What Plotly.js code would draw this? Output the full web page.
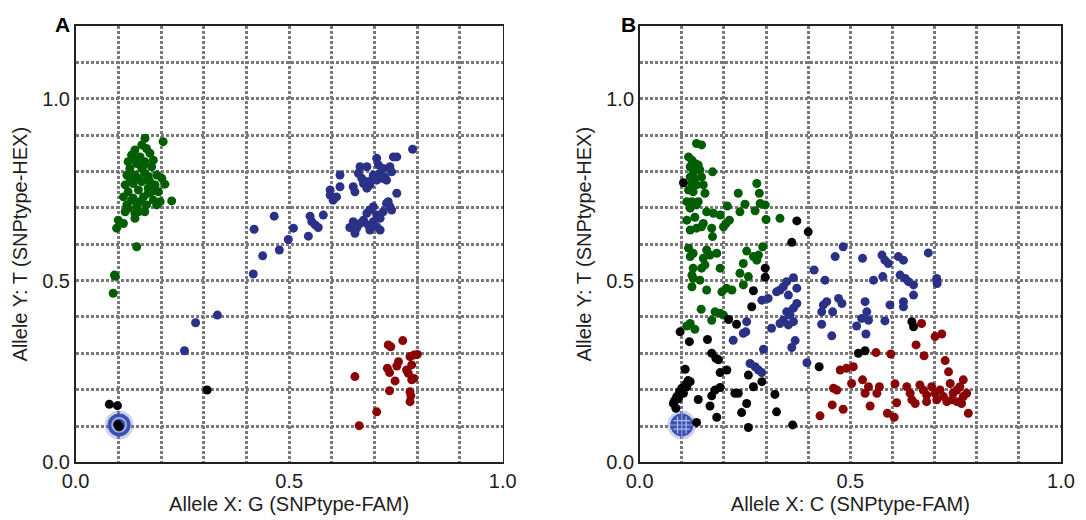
<!DOCTYPE html>
<html>
<head>
<meta charset="utf-8">
<script src="https://cdn.plot.ly/plotly-3.0.1.min.js"></script>
<style>html,body{margin:0;padding:0;background:#fff;}#chart{width:1086px;height:520px;}</style>
</head>
<body>
<div id="chart"></div>
<script>
// ---------- Panel A : Allele X = G (FAM), Allele Y = T (HEX) ----------
const aGreenX = [0.1625,0.205,0.155,0.139,0.166,0.131,0.151,0.174,0.123,0.143,0.162,0.182,0.127,0.155,0.178,0.120,0.139,0.162,0.190,0.202,0.116,0.135,0.155,0.174,0.209,0.123,0.147,0.170,0.194,0.112,0.135,0.159,0.182,0.198,0.225,0.120,0.143,0.166,0.190,0.116,0.139,0.123,0.100,0.112,0.096,0.139,0.143,0.091,0.088,0.131,0.151,0.170,0.147,0.162,0.127,0.147,0.170,0.137,0.159,0.186,0.178,0.093];
const aGreenY = [0.891,0.882,0.873,0.859,0.863,0.845,0.840,0.850,0.827,0.822,0.827,0.831,0.808,0.808,0.813,0.790,0.790,0.795,0.790,0.781,0.763,0.767,0.772,0.772,0.765,0.744,0.749,0.754,0.744,0.730,0.726,0.730,0.721,0.717,0.719,0.708,0.703,0.708,0.708,0.689,0.685,0.699,0.666,0.657,0.644,0.671,0.593,0.515,0.465,0.721,0.717,0.740,0.689,0.689,0.781,0.781,0.786,0.836,0.817,0.763,0.744,0.512];
const aBlueX = [0.789,0.752,0.744,0.705,0.709,0.682,0.666,0.662,0.720,0.736,0.740,0.713,0.697,0.693,0.682,0.674,0.670,0.650,0.654,0.619,0.619,0.596,0.596,0.603,0.611,0.705,0.717,0.724,0.728,0.752,0.682,0.689,0.728,0.736,0.740,0.697,0.689,0.682,0.705,0.713,0.697,0.705,0.685,0.674,0.666,0.650,0.642,0.654,0.658,0.713,0.689,0.720,0.732,0.580,0.549,0.553,0.561,0.568,0.545,0.510,0.498,0.477,0.465,0.438,0.418,0.416,0.255,0.281,0.332];
const aBlueY = [0.861,0.840,0.840,0.836,0.818,0.813,0.813,0.795,0.808,0.813,0.799,0.795,0.790,0.776,0.772,0.767,0.781,0.758,0.744,0.790,0.758,0.749,0.735,0.721,0.730,0.776,0.781,0.785,0.776,0.740,0.754,0.763,0.712,0.703,0.694,0.703,0.694,0.685,0.680,0.671,0.662,0.648,0.653,0.666,0.657,0.662,0.646,0.630,0.644,0.639,0.639,0.689,0.717,0.680,0.677,0.662,0.653,0.646,0.622,0.644,0.613,0.584,0.677,0.568,0.641,0.518,0.307,0.384,0.405];
const aRedX = [0.732,0.738,0.766,0.783,0.792,0.800,0.787,0.756,0.752,0.730,0.735,0.775,0.779,0.787,0.792,0.748,0.735,0.783,0.785,0.783,0.654,0.705,0.664];
const aRedY = [0.323,0.318,0.335,0.291,0.295,0.297,0.268,0.277,0.265,0.259,0.247,0.254,0.245,0.227,0.231,0.224,0.197,0.194,0.183,0.167,0.236,0.139,0.101];
const aBlackX = [0.079,0.098,0.102,0.099,0.308];
const aBlackY = [0.160,0.156,0.098,0.104,0.199];
const aNtcX = [0.102];
const aNtcY = [0.103];

// ---------- Panel B : Allele X = C (FAM), Allele Y = T (HEX) ----------
const bGreenX = [0.135,0.147,0.116,0.124,0.131,0.139,0.120,0.143,0.127,0.173,0.120,0.131,0.147,0.124,0.135,0.151,0.116,0.127,0.155,0.234,0.278,0.284,0.112,0.124,0.139,0.120,0.135,0.159,0.175,0.191,0.208,0.250,0.238,0.274,0.286,0.298,0.300,0.333,0.112,0.131,0.151,0.213,0.205,0.199,0.120,0.135,0.147,0.171,0.173,0.116,0.127,0.120,0.159,0.167,0.183,0.151,0.155,0.147,0.127,0.191,0.254,0.270,0.282,0.278,0.292,0.246,0.238,0.258,0.124,0.127,0.143,0.124,0.159,0.195,0.206,0.219,0.246,0.146,0.120,0.112,0.131,0.171,0.179,0.191,0.199];
const bGreenY = [0.877,0.873,0.840,0.831,0.822,0.818,0.813,0.804,0.799,0.799,0.785,0.781,0.785,0.767,0.763,0.763,0.749,0.744,0.740,0.740,0.767,0.740,0.717,0.717,0.717,0.699,0.708,0.689,0.685,0.680,0.705,0.710,0.689,0.692,0.712,0.708,0.668,0.671,0.666,0.674,0.657,0.666,0.657,0.648,0.639,0.644,0.648,0.644,0.621,0.589,0.575,0.566,0.584,0.570,0.575,0.561,0.543,0.534,0.534,0.534,0.581,0.566,0.570,0.556,0.593,0.547,0.520,0.511,0.515,0.506,0.501,0.483,0.474,0.469,0.479,0.474,0.488,0.421,0.382,0.375,0.366,0.391,0.414,0.410,0.405];
const bBlueX = [0.290,0.305,0.325,0.353,0.373,0.365,0.349,0.357,0.341,0.333,0.365,0.353,0.313,0.254,0.246,0.252,0.222,0.294,0.361,0.369,0.397,0.262,0.274,0.282,0.290,0.483,0.464,0.529,0.575,0.582,0.590,0.614,0.626,0.685,0.414,0.440,0.555,0.577,0.618,0.630,0.638,0.650,0.705,0.706,0.650,0.626,0.626,0.594,0.444,0.436,0.432,0.472,0.480,0.458,0.535,0.539,0.527,0.543,0.515,0.582,0.432,0.456,0.537,0.365,0.349,0.341,0.333,0.373];
const bBlueY = [0.446,0.451,0.469,0.460,0.437,0.424,0.414,0.405,0.391,0.382,0.387,0.378,0.369,0.387,0.355,0.359,0.336,0.311,0.316,0.335,0.274,0.272,0.263,0.254,0.247,0.593,0.566,0.561,0.570,0.556,0.547,0.566,0.556,0.576,0.529,0.501,0.501,0.511,0.515,0.506,0.497,0.488,0.506,0.492,0.460,0.442,0.428,0.433,0.442,0.433,0.414,0.451,0.437,0.414,0.442,0.414,0.396,0.391,0.375,0.389,0.380,0.348,0.353,0.508,0.497,0.483,0.474,0.479];
const bRedX = [0.669,0.701,0.717,0.656,0.675,0.596,0.561,0.476,0.491,0.507,0.725,0.733,0.460,0.468,0.503,0.529,0.535,0.543,0.569,0.563,0.606,0.610,0.634,0.642,0.646,0.654,0.665,0.673,0.681,0.681,0.693,0.701,0.705,0.713,0.721,0.729,0.737,0.744,0.753,0.760,0.768,0.768,0.776,0.764,0.753,0.741,0.457,0.483,0.547,0.588,0.604,0.428,0.780];
const bRedY = [0.382,0.346,0.353,0.323,0.293,0.298,0.302,0.254,0.259,0.263,0.280,0.249,0.204,0.199,0.217,0.227,0.190,0.208,0.208,0.190,0.216,0.164,0.208,0.190,0.172,0.162,0.213,0.199,0.185,0.167,0.208,0.190,0.172,0.199,0.181,0.167,0.217,0.190,0.199,0.208,0.227,0.181,0.190,0.162,0.167,0.172,0.158,0.146,0.155,0.135,0.124,0.128,0.135];
const bBlackX = [0.104,0.373,0.361,0.298,0.298,0.270,0.400,0.266,0.211,0.230,0.096,0.118,0.161,0.171,0.181,0.187,0.191,0.207,0.108,0.120,0.112,0.100,0.104,0.088,0.080,0.086,0.139,0.171,0.179,0.191,0.167,0.183,0.135,0.226,0.234,0.254,0.242,0.258,0.258,0.270,0.290,0.321,0.325,0.363,0.646,0.650,0.519,0.535,0.426,0.095,0.110,0.083,0.092,0.115];
const bBlackY = [0.769,0.664,0.605,0.534,0.509,0.472,0.634,0.428,0.393,0.380,0.359,0.332,0.338,0.300,0.286,0.282,0.247,0.254,0.256,0.222,0.208,0.204,0.190,0.181,0.162,0.149,0.173,0.183,0.199,0.206,0.155,0.124,0.110,0.190,0.190,0.162,0.137,0.096,0.240,0.208,0.222,0.187,0.139,0.103,0.387,0.373,0.300,0.307,0.263,0.195,0.215,0.170,0.175,0.225];
const bNtcX = [0.100];
const bNtcY = [0.103];

// ---------- tick labels ----------
const xTickVals = [0, 0.5, 1];
const xTickText = ['0.0', '0.5', '1.0'];
const yTickVals = [0, 0.5, 1];
const yTickText = ['0.0', '0.5', '1.0'];
const xGridVals = [0.1,0.2,0.3,0.4,0.6,0.7,0.8,0.9];
const yGridVals = [0.1,0.2,0.3,0.4,0.6,0.7,0.8,0.9,1.1];

const COL = {green:'#035e03', blue:'#2c3188', red:'#8a0505', black:'#050505'};
const MS = 9;

function pts(x, y, color, xa, ya) {
  return {type:'scatter', mode:'markers', x:x, y:y, xaxis:xa, yaxis:ya,
    marker:{size:MS, color:color, line:{width:0}}, hoverinfo:'skip', showlegend:false};
}
function ntc(x, y, xa, ya, hatch) {
  const t = [
    {type:'scatter', mode:'markers', x:x, y:y, xaxis:xa, yaxis:ya, showlegend:false, hoverinfo:'skip',
     marker:{size:29, color:'rgba(110,130,210,0.35)', line:{width:0}}},
    {type:'scatter', mode:'markers', x:x, y:y, xaxis:xa, yaxis:ya, showlegend:false, hoverinfo:'skip',
     marker:{size:23, color:'#3d50ad', line:{width:0}}}
  ];
  if (hatch) {
    t.push({type:'scatter', mode:'markers', x:x, y:y, xaxis:xa, yaxis:ya, showlegend:false, hoverinfo:'skip',
      marker:{symbol:'hash-open', size:17, color:'rgba(190,205,255,0.85)', line:{width:1.3}}});
    t.push({type:'scatter', mode:'markers', x:x, y:y, xaxis:xa, yaxis:ya, showlegend:false, hoverinfo:'skip',
      marker:{symbol:'cross-thin-open', size:20, color:'rgba(190,205,255,0.7)', line:{width:1.1}}});
  } else {
    t.push({type:'scatter', mode:'markers', x:x, y:y, xaxis:xa, yaxis:ya, showlegend:false, hoverinfo:'skip',
      marker:{symbol:'circle-open', size:14, color:'rgba(170,185,240,0.9)', line:{width:1.8}}});
  }
  return t;
}

const data = [].concat(
  ntc(aNtcX, aNtcY, 'x', 'y', false),
  [pts(aGreenX, aGreenY, COL.green, 'x', 'y'),
   pts(aBlueX, aBlueY, COL.blue, 'x', 'y'),
   pts(aRedX, aRedY, COL.red, 'x', 'y'),
   pts(aBlackX, aBlackY, COL.black, 'x', 'y')],
  ntc(bNtcX, bNtcY, 'x2', 'y2', true),
  [pts(bGreenX, bGreenY, COL.green, 'x2', 'y2'),
   pts(bBlueX, bBlueY, COL.blue, 'x2', 'y2'),
   pts(bRedX, bRedY, COL.red, 'x2', 'y2'),
   pts(bBlackX, bBlackY, COL.black, 'x2', 'y2')]
);

const FONT = 'Liberation Sans, Arial, Helvetica, sans-serif';
const gridStyle = {gridcolor:'#7a7a7a', gridwidth:3, griddash:'3px,2px'};

function xAxis(dom, title, anchor) {
  return Object.assign({
    domain:dom, range:[0,1], anchor:anchor, autorange:false, fixedrange:true,
    showline:true, mirror:true, linecolor:'#222', linewidth:1.6,
    ticks:'', tickmode:'array', tickvals:xTickVals, ticktext:xTickText,
    tickfont:{family:FONT, size:20, color:'#1e1e1e'},
    zeroline:false, showgrid:true,
    minor:Object.assign({tickmode:'array', tickvals:xGridVals, showgrid:true, ticks:''}, gridStyle),
    title:{text:title, font:{family:FONT, size:20, color:'#1e1e1e'}, standoff:6},
    automargin:false
  }, gridStyle);
}
function yAxis(dom, title, anchor) {
  return Object.assign({
    domain:dom, range:[0,1.2], anchor:anchor, autorange:false, fixedrange:true,
    showline:true, mirror:true, linecolor:'#222', linewidth:1.6,
    ticks:'', tickmode:'array', tickvals:yTickVals, ticktext:yTickText,
    tickfont:{family:FONT, size:20, color:'#1e1e1e'},
    zeroline:false, showgrid:true,
    minor:Object.assign({tickmode:'array', tickvals:yGridVals, showgrid:true, ticks:''}, gridStyle),
    title:{text:title, font:{family:FONT, size:20, color:'#1e1e1e'}, standoff:9},
    automargin:false
  }, gridStyle);
}

const yDom = [0.1108, 0.95];
const layout = {
  width:1086, height:520,
  margin:{l:0, r:0, t:0, b:0, pad:0},
  paper_bgcolor:'#ffffff', plot_bgcolor:'#ffffff',
  showlegend:false,
  xaxis: xAxis([0.0696, 0.4629], 'Allele X: G (SNPtype-FAM)', 'y'),
  yaxis: yAxis(yDom, 'Allele Y: T (SNPtype-HEX)', 'x'),
  xaxis2: xAxis([0.5890, 0.9770], 'Allele X: C (SNPtype-FAM)', 'y2'),
  yaxis2: yAxis(yDom, 'Allele Y: T (SNPtype-HEX)', 'x2'),
  annotations:[
    {text:'<b>A</b>', xref:'paper', yref:'paper', x:0.0571, y:0.9538, xanchor:'center', yanchor:'middle',
     showarrow:false, font:{family:FONT, size:21, color:'#000'}},
    {text:'<b>B</b>', xref:'paper', yref:'paper', x:0.5783, y:0.9538, xanchor:'center', yanchor:'middle',
     showarrow:false, font:{family:FONT, size:21, color:'#000'}}
  ]
};

Plotly.newPlot('chart', data, layout, {staticPlot:true, displayModeBar:false});
</script>
</body>
</html>
